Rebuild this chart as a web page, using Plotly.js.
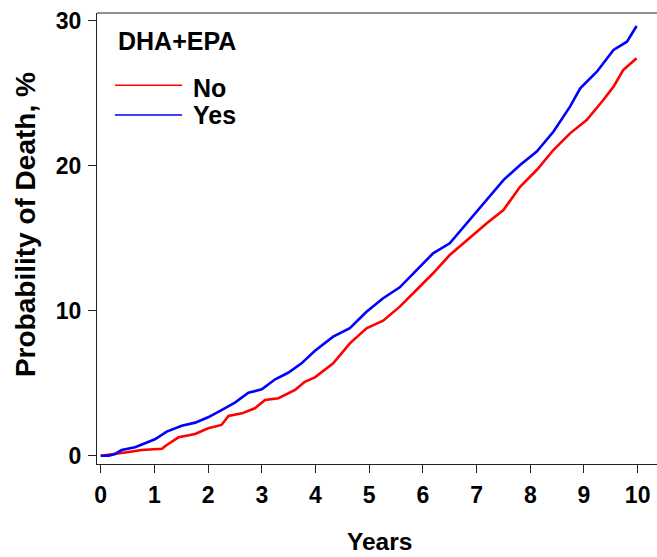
<!DOCTYPE html>
<html><head><meta charset="utf-8">
<script src="https://cdn.plot.ly/plotly-3.0.1.min.js"></script>
<style>html,body{margin:0;padding:0;background:#fff}#chart{width:657px;height:557px}</style>
</head><body><div id="chart"></div>
<script>
const yesYears = [0, 0.15, 0.27, 0.39, 0.64, 1.01, 1.23, 1.51, 1.76, 2.0, 2.25, 2.5, 2.75, 3.0, 3.25, 3.49, 3.74, 3.99, 4.33, 4.64, 4.95, 5.26, 5.57, 5.88, 6.19, 6.5, 6.82, 7.19, 7.5, 7.81, 8.12, 8.43, 8.74, 8.93, 9.24, 9.55, 9.8, 9.98];
const yesProb  = [0, 0, 0.12, 0.39, 0.58, 1.13, 1.66, 2.07, 2.28, 2.65, 3.15, 3.66, 4.34, 4.58, 5.27, 5.72, 6.37, 7.24, 8.21, 8.79, 9.93, 10.86, 11.61, 12.81, 13.96, 14.65, 16.03, 17.6, 19.01, 20.05, 20.97, 22.34, 24.07, 25.34, 26.48, 27.98, 28.55, 29.63];
const noYears  = [0, 0.27, 0.52, 0.76, 1.14, 1.23, 1.45, 1.76, 2.0, 2.25, 2.38, 2.63, 2.87, 3.06, 3.31, 3.62, 3.8, 3.99, 4.33, 4.64, 4.95, 5.26, 5.57, 5.88, 6.19, 6.5, 6.82, 7.19, 7.5, 7.81, 8.12, 8.43, 8.74, 9.05, 9.36, 9.55, 9.73, 9.98];
const noProb   = [0, 0.16, 0.26, 0.39, 0.48, 0.74, 1.27, 1.5, 1.89, 2.12, 2.74, 2.92, 3.27, 3.84, 3.96, 4.53, 5.1, 5.4, 6.37, 7.75, 8.79, 9.31, 10.28, 11.43, 12.58, 13.84, 14.88, 16.03, 16.94, 18.55, 19.7, 21.08, 22.23, 23.15, 24.53, 25.45, 26.6, 27.41];
const xTicks = [0,1,2,3,4,5,6,7,8,9,10];
const yTicks = [0,10,20,30];
const xTitle = "Years";
const yTitle = "Probability of Death, %";
const legendTitle = "DHA+EPA";
const seriesNames = ["No", "Yes"];
const seriesColors = ["#ff0000", "#0000ff"];

const font = "Liberation Sans, Arial, sans-serif";
const traces = [
  {x: noYears, y: noProb, name: seriesNames[0], mode: "lines", line: {color: seriesColors[0], width: 2.6}, showlegend: false},
  {x: yesYears, y: yesProb, name: seriesNames[1], mode: "lines", line: {color: seriesColors[1], width: 2.6}, showlegend: false}
];
const layout = {
  width: 657, height: 557,
  margin: {l: 97, r: 0, t: 13, b: 93},
  paper_bgcolor: "#fff", plot_bgcolor: "#fff",
  font: {family: font, color: "#000"},
  xaxis: {
    range: [-0.069, 10.36], tickvals: xTicks, ticktext: xTicks.map(String),
    showgrid: false, zeroline: false, showline: true, linecolor: "#222", linewidth: 1,
    ticks: "outside", ticklen: 8, tickcolor: "#222", tickwidth: 1,
    tickfont: {size: 23, family: font, weight: "bold"}, ticklabelstandoff: 2
  },
  yaxis: {
    range: [-0.572, 30.53], tickvals: yTicks, ticktext: yTicks.map(String),
    showgrid: false, zeroline: false, showline: true, linecolor: "#222", linewidth: 1,
    ticks: "outside", ticklen: 8, tickcolor: "#222", tickwidth: 1,
    tickfont: {size: 23, family: font, weight: "bold"}, ticklabelstandoff: 2
  },
  shapes: [
    {type: "line", xref: "paper", yref: "paper", x0: 0, x1: 1, y0: 1, y1: 1, line: {color: "#222", width: 1}},
    {type: "line", xref: "paper", yref: "paper", x0: 0.032, x1: 0.152, y0: 0.840, y1: 0.840, line: {color: seriesColors[0], width: 1.5}},
    {type: "line", xref: "paper", yref: "paper", x0: 0.032, x1: 0.152, y0: 0.774, y1: 0.774, line: {color: seriesColors[1], width: 1.5}}
  ],
  annotations: [
    {xref: "paper", yref: "paper", x: 0.505, y: -0.171, xanchor: "center", yanchor: "middle", showarrow: false, text: "<b>" + xTitle + "</b>", font: {size: 24.5, family: font, color: "#000"}},
    {xref: "paper", yref: "paper", x: -0.1286, y: 0.532, xanchor: "center", yanchor: "middle", textangle: -90, showarrow: false, text: "<b>" + yTitle + "</b>", font: {size: 28, family: font, color: "#000"}},
    {xref: "paper", yref: "paper", x: 0.034, y: 0.937, xanchor: "left", yanchor: "middle", showarrow: false, text: "<b>" + legendTitle + "</b>", font: {size: 25, family: font, color: "#000"}},
    {xref: "paper", yref: "paper", x: 0.167, y: 0.834, xanchor: "left", yanchor: "middle", showarrow: false, text: "<b>" + seriesNames[0] + "</b>", font: {size: 25, family: font, color: "#000"}},
    {xref: "paper", yref: "paper", x: 0.167, y: 0.773, xanchor: "left", yanchor: "middle", showarrow: false, text: "<b>" + seriesNames[1] + "</b>", font: {size: 25, family: font, color: "#000"}}
  ]
};
Plotly.newPlot("chart", traces, layout, {displayModeBar: false, staticPlot: true});
</script></body></html>
